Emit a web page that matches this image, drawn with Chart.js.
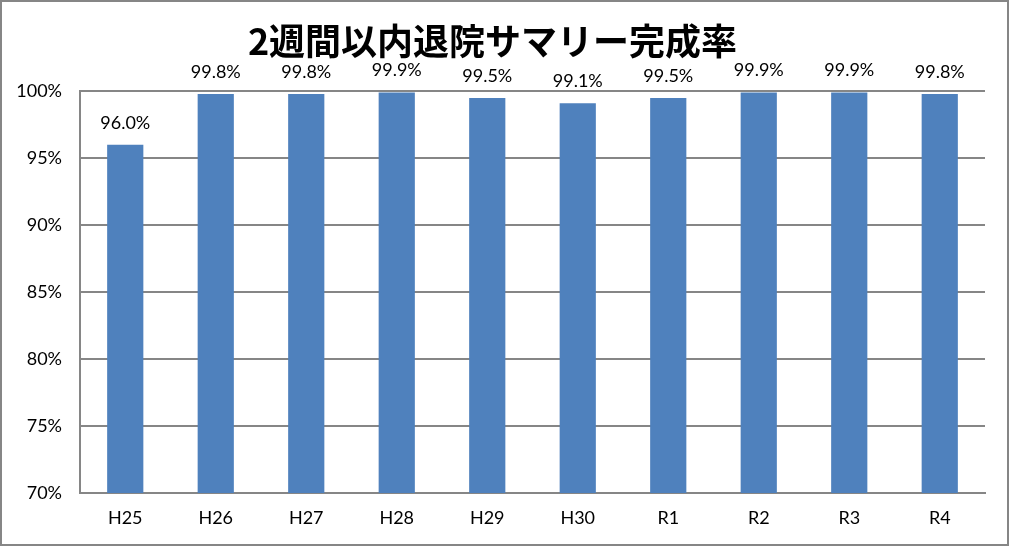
<!DOCTYPE html>
<html>
<head>
<meta charset="utf-8">
<script src="https://cdn.jsdelivr.net/npm/chart.js@4"></script>
<style>
  html, body { margin: 0; padding: 0; background: #fff; }
  #wrap { width: 1009px; height: 546px; }
</style>
</head>
<body>
<div id="wrap"><canvas id="myBarChart" width="1009" height="546"></canvas></div>
<script>
const chartTitle = '2週間以内退院サマリー完成率';
const years = ['H25', 'H26', 'H27', 'H28', 'H29', 'H30', 'R1', 'R2', 'R3', 'R4'];
const rates = [96.0, 99.8, 99.8, 99.9, 99.5, 99.1, 99.5, 99.9, 99.9, 99.8];
const yTicks = [70, 75, 80, 85, 90, 95, 100];

const numFont = 'Lato, "Noto Sans", sans-serif';

// value labels above each bar
const barLabels = {
    id: 'barLabels',
    afterDatasetsDraw(chart) {
        const ctx = chart.ctx;
        const meta = chart.getDatasetMeta(0);
        ctx.save();
        ctx.font = '18px ' + numFont;
        ctx.fillStyle = '#000';
        ctx.textAlign = 'center';
        ctx.textBaseline = 'middle';
        meta.data.forEach(function (bar, i) {
            ctx.fillText(rates[i].toFixed(1) + '%', bar.x, bar.y - 22);
        });
        ctx.restore();
    }
};

// grey frame round the whole chart
const frame = {
    id: 'frame',
    afterDraw(chart) {
        const ctx = chart.ctx;
        ctx.save();
        ctx.strokeStyle = '#868686';
        ctx.lineWidth = 2;
        ctx.strokeRect(1, 1, chart.width - 2, chart.height - 2);
        ctx.restore();
    }
};

const ctx = document.getElementById('myBarChart').getContext('2d');

new Chart(ctx, {
    type: 'bar',
    data: {
        labels: years,
        datasets: [{
            data: rates,
            backgroundColor: '#4F81BD',
            borderWidth: 0,
            barPercentage: 0.4,
            categoryPercentage: 1.0
        }]
    },
    options: {
        responsive: false,
        animation: false,
        layout: { padding: { left: 0, right: 24, top: 0, bottom: 0 } },
        plugins: {
            legend: { display: false },
            tooltip: { enabled: false },
            title: {
                display: true,
                text: chartTitle,
                color: '#000',
                font: { family: '"Noto Sans CJK JP", sans-serif', size: 36, weight: 'bold', lineHeight: 1.2 },
                padding: { top: 20, bottom: 28 }
            }
        },
        scales: {
            x: {
                grid: { display: false, drawTicks: false },
                border: { display: true, color: '#868686', width: 2 },
                ticks: { color: '#000', font: { family: numFont, size: 18 }, padding: 14 },
                afterFit(scale) { scale.height = 53; }
            },
            y: {
                min: 70,
                max: 100,
                afterBuildTicks(scale) {
                    scale.ticks = yTicks.map(function (v) { return { value: v }; });
                },
                grid: { color: '#868686', lineWidth: 2, drawTicks: false },
                border: { display: true, color: '#868686', width: 2 },
                ticks: {
                    color: '#000',
                    font: { family: numFont, size: 18 },
                    padding: 18,
                    callback: function (v) { return v + '%'; }
                },
                afterFit(scale) { scale.width = 80; }
            }
        }
    },
    plugins: [barLabels, frame]
});
</script>
</body>
</html>
